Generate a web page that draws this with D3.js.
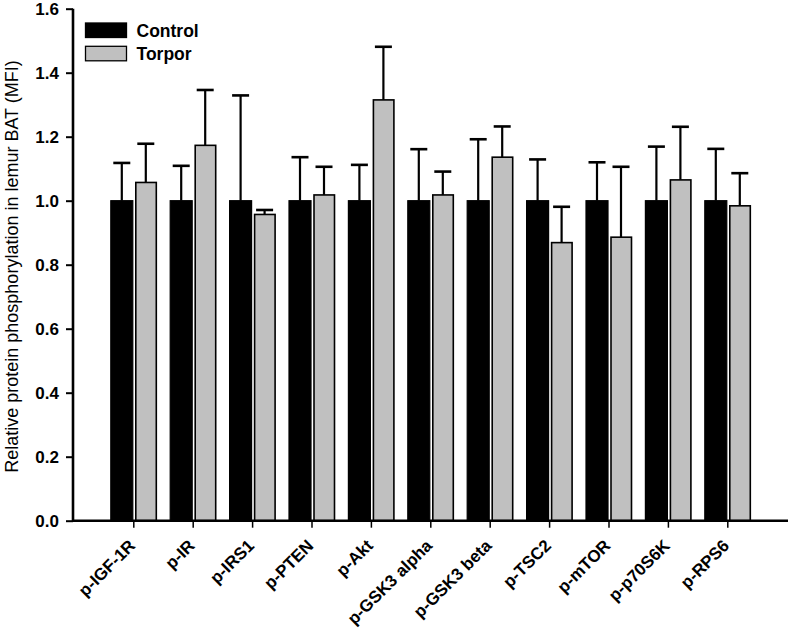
<!DOCTYPE html>
<html><head><meta charset="utf-8">
<script src="https://cdn.jsdelivr.net/npm/d3@7"></script>
<style>body{margin:0;background:#fff}svg{display:block;font-family:Arial,"Liberation Sans",Helvetica,sans-serif}</style>
</head><body><svg id="c" width="788" height="630"></svg>
<script>
const categories = ["p-IGF-1R","p-IR","p-IRS1","p-PTEN","p-Akt","p-GSK3 alpha","p-GSK3 beta","p-TSC2","p-mTOR","p-p70S6K","p-RPS6"];
const controlMean = [1,1,1,1,1,1,1,1,1,1,1];
const controlErr  = [1.118,1.109,1.329,1.136,1.112,1.161,1.192,1.129,1.120,1.169,1.162];
const torporMean  = [1.057,1.173,0.957,1.018,1.315,1.018,1.136,0.869,0.886,1.065,0.984];
const torporErr   = [1.178,1.346,0.971,1.106,1.481,1.091,1.232,0.981,1.106,1.231,1.086];
const yTicks = [0,0.2,0.4,0.6,0.8,1.0,1.2,1.4,1.6];
const seriesNames = ["Control","Torpor"];
const seriesColors = ["#000000","#c0c0c0"];

const svg = d3.select("#c");
const y = d3.scaleLinear().domain([0,1.6]).range([520.7,8.7]);
const x = d3.scalePoint().domain(categories).range([133.3,727.3]);
const axisX0 = 73, axisX1 = 788;
const FONT = "Arial,'Liberation Sans',sans-serif";

// bars
const g = svg.append("g");
categories.forEach((c,i)=>{
  const cx = x(c);
  // control
  g.append("line").attr("x1",cx-11.5).attr("x2",cx-11.5).attr("y1",y(controlMean[i])).attr("y2",y(controlErr[i])).attr("stroke","#000").attr("stroke-width",2.2);
  g.append("line").attr("x1",cx-11.5-8.5).attr("x2",cx-11.5+8.5).attr("y1",y(controlErr[i])).attr("y2",y(controlErr[i])).attr("stroke","#000").attr("stroke-width",2.6);
  g.append("rect").attr("x",cx-22.5).attr("width",22).attr("y",y(controlMean[i])).attr("height",y(0)-y(controlMean[i])).attr("fill",seriesColors[0]).attr("stroke","#000").attr("stroke-width",1.2);
  // torpor
  g.append("line").attr("x1",cx+12.5).attr("x2",cx+12.5).attr("y1",y(torporMean[i])).attr("y2",y(torporErr[i])).attr("stroke","#000").attr("stroke-width",2.2);
  g.append("line").attr("x1",cx+12.5-8.5).attr("x2",cx+12.5+8.5).attr("y1",y(torporErr[i])).attr("y2",y(torporErr[i])).attr("stroke","#000").attr("stroke-width",2.6);
  g.append("rect").attr("x",cx+2.5).attr("width",20.5).attr("y",y(torporMean[i])).attr("height",y(0)-y(torporMean[i])).attr("fill",seriesColors[1]).attr("stroke","#000").attr("stroke-width",1.6);
});

// y axis
const ya = svg.append("g").attr("transform",`translate(${axisX0},0)`)
  .call(d3.axisLeft(y).tickValues(yTicks).tickFormat(d3.format(".1f")).tickSize(7).tickSizeOuter(0));
ya.select(".domain").attr("stroke-width",2.6).attr("d",`M0,${y(1.6)}V${y(0)+1}`);
ya.selectAll(".tick line").attr("stroke-width",2);
ya.selectAll(".tick text").attr("font-size",17).attr("font-weight","bold").attr("fill","#000").attr("x",-14).attr("dy","0.36em").attr("font-family",FONT);

// x axis
const xa = svg.append("g").attr("transform",`translate(0,${y(0)})`)
  .call(d3.axisBottom(x).tickSize(7).tickSizeOuter(0));
xa.select(".domain").attr("stroke-width",2.6).attr("d",`M${axisX0-1},0H${axisX1}`);
xa.selectAll(".tick line").attr("stroke-width",1.5);
xa.selectAll(".tick text").attr("font-size",17).attr("font-weight","bold").attr("fill","#000")
  .attr("text-anchor","end").attr("dy",0).attr("y",0)
  .attr("transform","translate(2.5,26) rotate(-45)").attr("font-family",FONT);

// y label
const yl = svg.append("text").attr("transform","translate(18,266.5) rotate(-90)").attr("text-anchor","middle")
  .attr("font-size",17).attr("fill","#000").attr("font-family",FONT)
  .text("Relative protein phosphorylation in lemur BAT (MFI)");
const len = yl.node().getComputedTextLength();
if (len > 0) yl.attr("font-size", Math.min(18, 17 * 445 / len));

// legend
const lg = svg.append("g");
seriesNames.forEach((s,i)=>{
  lg.append("rect").attr("x",85.5).attr("y",23+i*23.3).attr("width",41).attr("height",14.5)
    .attr("fill",seriesColors[i]).attr("stroke","#000").attr("stroke-width",1.3);
  lg.append("text").attr("x",136.5).attr("y",37+i*23.3).attr("font-size",17.5).attr("font-weight","bold").attr("fill","#000").attr("font-family",FONT).text(s);
});
</script></body></html>
